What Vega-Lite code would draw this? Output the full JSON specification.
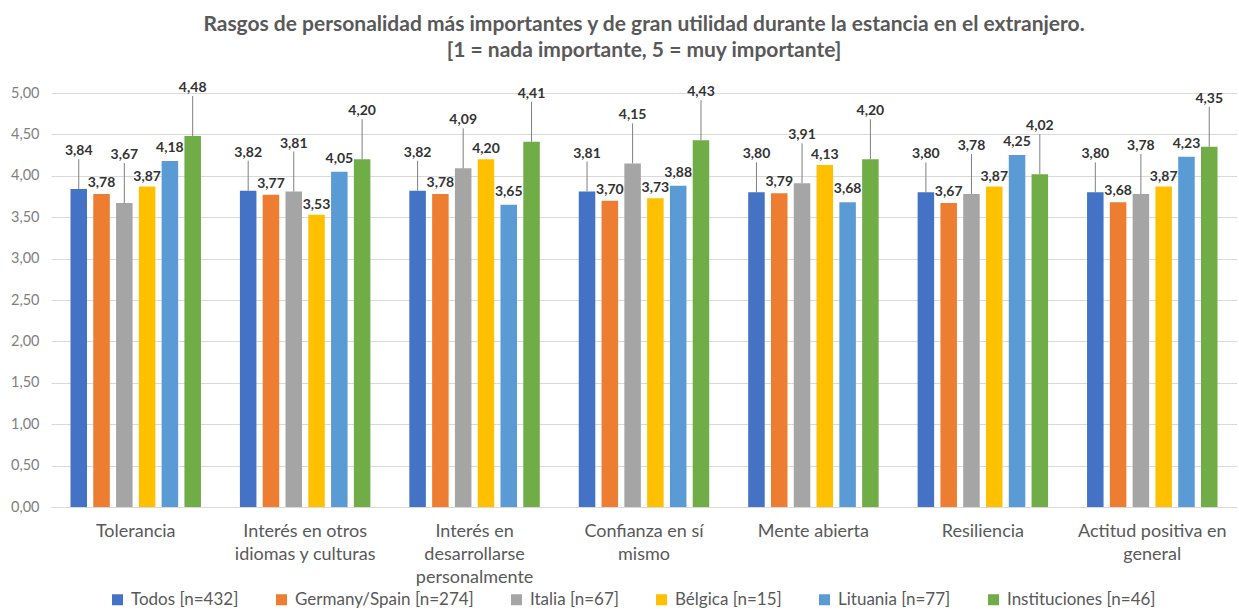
{
  "$schema": "https://vega.github.io/schema/vega-lite/v6.json",
  "width": 1186,
  "height": 414,
  "padding": {"left": 10, "top": 14, "right": 0, "bottom": 0},
  "title": {
    "text": ["Rasgos de personalidad más importantes y de gran utilidad durante la estancia en el extranjero.", "[1 = nada importante, 5 = muy importante]"],
    "font": "Lato",
    "fontSize": 21,
    "fontWeight": "bold",
    "color": "#595959",
    "lineHeight": 26,
    "offset": 20,
    "anchor": "middle"
  },
  "config": {
    "font": "Lato",
    "view": {"stroke": null},
    "locale": {"number": {"decimal": ",", "thousands": ".", "grouping": [3], "currency": ["", " €"]}}
  },
  "data": {
    "values": [
      {"c": "Tolerancia", "s": "Todos [n=432]", "v": 3.84},
      {"c": "Tolerancia", "s": "Germany/Spain [n=274]", "v": 3.78},
      {"c": "Tolerancia", "s": "Italia [n=67]", "v": 3.67},
      {"c": "Tolerancia", "s": "Bélgica [n=15]", "v": 3.87},
      {"c": "Tolerancia", "s": "Lituania [n=77]", "v": 4.18},
      {"c": "Tolerancia", "s": "Instituciones [n=46]", "v": 4.48},
      {"c": "Interés en otros|idiomas y culturas", "s": "Todos [n=432]", "v": 3.82},
      {"c": "Interés en otros|idiomas y culturas", "s": "Germany/Spain [n=274]", "v": 3.77},
      {"c": "Interés en otros|idiomas y culturas", "s": "Italia [n=67]", "v": 3.81},
      {"c": "Interés en otros|idiomas y culturas", "s": "Bélgica [n=15]", "v": 3.53},
      {"c": "Interés en otros|idiomas y culturas", "s": "Lituania [n=77]", "v": 4.05},
      {"c": "Interés en otros|idiomas y culturas", "s": "Instituciones [n=46]", "v": 4.20},
      {"c": "Interés en|desarrollarse|personalmente", "s": "Todos [n=432]", "v": 3.82},
      {"c": "Interés en|desarrollarse|personalmente", "s": "Germany/Spain [n=274]", "v": 3.78},
      {"c": "Interés en|desarrollarse|personalmente", "s": "Italia [n=67]", "v": 4.09},
      {"c": "Interés en|desarrollarse|personalmente", "s": "Bélgica [n=15]", "v": 4.20},
      {"c": "Interés en|desarrollarse|personalmente", "s": "Lituania [n=77]", "v": 3.65},
      {"c": "Interés en|desarrollarse|personalmente", "s": "Instituciones [n=46]", "v": 4.41},
      {"c": "Confianza en sí|mismo", "s": "Todos [n=432]", "v": 3.81},
      {"c": "Confianza en sí|mismo", "s": "Germany/Spain [n=274]", "v": 3.70},
      {"c": "Confianza en sí|mismo", "s": "Italia [n=67]", "v": 4.15},
      {"c": "Confianza en sí|mismo", "s": "Bélgica [n=15]", "v": 3.73},
      {"c": "Confianza en sí|mismo", "s": "Lituania [n=77]", "v": 3.88},
      {"c": "Confianza en sí|mismo", "s": "Instituciones [n=46]", "v": 4.43},
      {"c": "Mente abierta", "s": "Todos [n=432]", "v": 3.80},
      {"c": "Mente abierta", "s": "Germany/Spain [n=274]", "v": 3.79},
      {"c": "Mente abierta", "s": "Italia [n=67]", "v": 3.91},
      {"c": "Mente abierta", "s": "Bélgica [n=15]", "v": 4.13},
      {"c": "Mente abierta", "s": "Lituania [n=77]", "v": 3.68},
      {"c": "Mente abierta", "s": "Instituciones [n=46]", "v": 4.20},
      {"c": "Resiliencia", "s": "Todos [n=432]", "v": 3.80},
      {"c": "Resiliencia", "s": "Germany/Spain [n=274]", "v": 3.67},
      {"c": "Resiliencia", "s": "Italia [n=67]", "v": 3.78},
      {"c": "Resiliencia", "s": "Bélgica [n=15]", "v": 3.87},
      {"c": "Resiliencia", "s": "Lituania [n=77]", "v": 4.25},
      {"c": "Resiliencia", "s": "Instituciones [n=46]", "v": 4.02},
      {"c": "Actitud positiva en|general", "s": "Todos [n=432]", "v": 3.80},
      {"c": "Actitud positiva en|general", "s": "Germany/Spain [n=274]", "v": 3.68},
      {"c": "Actitud positiva en|general", "s": "Italia [n=67]", "v": 3.78},
      {"c": "Actitud positiva en|general", "s": "Bélgica [n=15]", "v": 3.87},
      {"c": "Actitud positiva en|general", "s": "Lituania [n=77]", "v": 4.23},
      {"c": "Actitud positiva en|general", "s": "Instituciones [n=46]", "v": 4.35}
    ]
  },
  "encoding": {
    "x": {
      "field": "c",
      "type": "nominal",
      "sort": null,
      "scale": {"paddingInner": 0.23, "paddingOuter": 0.115},
      "axis": {
        "title": null,
        "labelAngle": 0,
        "labelExpr": "split(datum.label, '|')",
        "labelFont": "Lato",
        "labelFontSize": 18,
        "labelColor": "#595959",
        "labelLineHeight": 23,
        "labelPadding": 15,
        "ticks": false,
        "domainColor": "#d9d9d9",
        "domainWidth": 1.2,
        "grid": false
      }
    },
    "xOffset": {
      "field": "s",
      "type": "nominal",
      "sort": null,
      "scale": {
        "domain": ["Todos [n=432]", "Germany/Spain [n=274]", "Italia [n=67]", "Bélgica [n=15]", "Lituania [n=77]", "Instituciones [n=46]"],
        "paddingInner": 0.275,
        "paddingOuter": 0
      }
    },
    "y": {
      "field": "v",
      "type": "quantitative",
      "scale": {"domain": [0, 5], "nice": false},
      "axis": {
        "title": null,
        "values": [0, 0.5, 1, 1.5, 2, 2.5, 3, 3.5, 4, 4.5, 5],
        "format": ".2f",
        "labelFont": "Lato",
        "labelFontSize": 14.5,
        "labelColor": "#7f7f7f",
        "labelPadding": 12,
        "ticks": false,
        "domain": false,
        "gridColor": "#d9d9d9",
        "gridWidth": 1.2
      }
    }
  },
  "layer": [
    {
      "mark": {"type": "bar"},
      "encoding": {
        "color": {
          "field": "s",
          "type": "nominal",
          "sort": null,
          "scale": {
            "domain": ["Todos [n=432]", "Germany/Spain [n=274]", "Italia [n=67]", "Bélgica [n=15]", "Lituania [n=77]", "Instituciones [n=46]"],
            "range": ["#4472C4", "#ED7D31", "#A5A5A5", "#FFC000", "#5B9BD5", "#70AD47"]
          },
          "legend": {
            "title": null,
            "orient": "none",
            "legendX": 58,
            "legendY": 498,
            "direction": "horizontal",
            "symbolType": "square",
            "symbolSize": 121,
            "symbolStrokeWidth": 0,
            "labelFont": "Lato",
            "labelFontSize": 17,
            "labelLimit": 400,
            "labelColor": "#595959",
            "columnPadding": 34,
            "labelOffset": 5,
            "padding": 0
          }
        }
      }
    },
    {
      "transform": [{"filter": {"field": "s", "equal": "Todos [n=432]"}}],
      "mark": {"type": "rule", "color": "#7f7f7f", "strokeWidth": 1, "y2Offset": -30},
      "encoding": {"y2": {"field": "v"}}
    },
    {
      "transform": [{"filter": {"field": "s", "equal": "Italia [n=67]"}}],
      "mark": {"type": "rule", "color": "#7f7f7f", "strokeWidth": 1, "y2Offset": -40},
      "encoding": {"y2": {"field": "v"}}
    },
    {
      "transform": [{"filter": {"field": "s", "equal": "Instituciones [n=46]"}}],
      "mark": {"type": "rule", "color": "#7f7f7f", "strokeWidth": 1, "y2Offset": -40},
      "encoding": {"y2": {"field": "v"}}
    },
    {
      "transform": [{"filter": {"field": "s", "equal": "Todos [n=432]"}}],
      "mark": {"type": "text", "dy": -38, "font": "Lato", "fontSize": 14, "fontWeight": "bold", "color": "#333333"},
      "encoding": {"text": {"field": "v", "type": "quantitative", "format": ".2f"}}
    },
    {
      "transform": [{"filter": {"field": "s", "equal": "Germany/Spain [n=274]"}}],
      "mark": {"type": "text", "dy": -11, "font": "Lato", "fontSize": 14, "fontWeight": "bold", "color": "#333333"},
      "encoding": {"text": {"field": "v", "type": "quantitative", "format": ".2f"}}
    },
    {
      "transform": [{"filter": {"field": "s", "equal": "Italia [n=67]"}}],
      "mark": {"type": "text", "dy": -48, "font": "Lato", "fontSize": 14, "fontWeight": "bold", "color": "#333333"},
      "encoding": {"text": {"field": "v", "type": "quantitative", "format": ".2f"}}
    },
    {
      "transform": [{"filter": {"field": "s", "equal": "Bélgica [n=15]"}}],
      "mark": {"type": "text", "dy": -10, "font": "Lato", "fontSize": 14, "fontWeight": "bold", "color": "#333333"},
      "encoding": {"text": {"field": "v", "type": "quantitative", "format": ".2f"}}
    },
    {
      "transform": [{"filter": {"field": "s", "equal": "Lituania [n=77]"}}],
      "mark": {"type": "text", "dy": -13, "font": "Lato", "fontSize": 14, "fontWeight": "bold", "color": "#333333"},
      "encoding": {"text": {"field": "v", "type": "quantitative", "format": ".2f"}}
    },
    {
      "transform": [{"filter": {"field": "s", "equal": "Instituciones [n=46]"}}],
      "mark": {"type": "text", "dy": -48, "font": "Lato", "fontSize": 14, "fontWeight": "bold", "color": "#333333"},
      "encoding": {"text": {"field": "v", "type": "quantitative", "format": ".2f"}}
    }
  ]
}
